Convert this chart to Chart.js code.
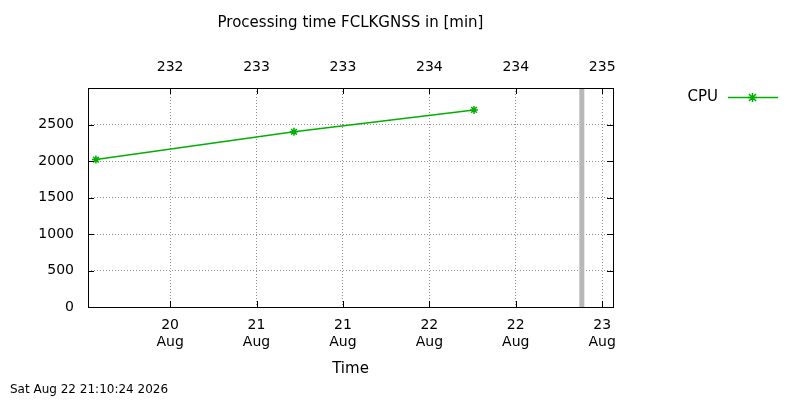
<!DOCTYPE html>
<html>
<head>
<meta charset="utf-8">
<script src="https://cdn.jsdelivr.net/npm/chart.js@4"></script>
<style>
  body { margin: 0; background: #fff; }
  #wrap { width: 800px; height: 400px; }
</style>
</head>
<body>
<div id="wrap"><canvas id="c"></canvas></div>
<script>
// hours since 20 Aug 00:00
const cpuHours = [1.7, 29.2, 54.2];
const cpuMinutes = [2020, 2400, 2700];
const nowHour = 69.17;
const tickHours = [12, 24, 36, 48, 60, 72];
const bottomLabels = [['20', 'Aug'], ['21', 'Aug'], ['21', 'Aug'], ['22', 'Aug'], ['22', 'Aug'], ['23', 'Aug']];
const topLabels = ['232', '233', '233', '234', '234', '235'];
const yTicks = [0, 500, 1000, 1500, 2000, 2500];

const font = { family: 'DejaVu Sans', size: 14 };
const gridStyle = { color: '#909090', lineWidth: 1, drawTicks: false };
const gridBorder = { display: false, dash: [1, 2] };

function fixedTicks(list) {
  return function(axis) { axis.ticks = list.map(v => ({ value: v })); };
}

const extras = {
  id: 'extras',
  afterDraw(chart) {
    const c = chart.ctx, a = chart.chartArea;
    c.save();
    c.strokeStyle = '#000';
    c.lineWidth = 1;
    c.strokeRect(a.left + 0.5, a.top + 0.5, a.right - a.left, a.bottom - a.top);
    // mirrored tick marks on every side, gnuplot style
    const y = chart.scales.y, x = chart.scales.x;
    c.beginPath();
    yTicks.forEach(v => {
      const py = Math.round(y.getPixelForValue(v)) + 0.5;
      c.moveTo(a.left, py); c.lineTo(a.left + 6, py);
      c.moveTo(a.right, py); c.lineTo(a.right - 6, py);
    });
    tickHours.forEach(v => {
      const px = Math.round(x.getPixelForValue(v)) + 0.5;
      c.moveTo(px, a.bottom); c.lineTo(px, a.bottom - 6);
      c.moveTo(px, a.top); c.lineTo(px, a.top + 6);
    });
    c.stroke();
    c.fillStyle = '#000';
    c.font = '15px "DejaVu Sans"';
    c.textAlign = 'center';
    c.textBaseline = 'middle';
    c.fillText('Processing time FCLKGNSS in [min]', (a.left + a.right) / 2, 23);
    c.fillText('Time', (a.left + a.right) / 2, 369);
    c.textAlign = 'right';
    c.fillText('CPU', 718, 97);
    c.strokeStyle = '#00b000';
    c.lineWidth = 1.5;
    c.beginPath(); c.moveTo(728, 97.5); c.lineTo(778, 97.5); c.stroke();
    c.beginPath();
    c.moveTo(749, 94); c.lineTo(756, 101); c.moveTo(756, 94); c.lineTo(749, 101);
    c.moveTo(752.5, 93); c.lineTo(752.5, 102); c.moveTo(748, 97.5); c.lineTo(757, 97.5);
    c.stroke();
    c.textAlign = 'left';
    c.font = '12px "DejaVu Sans"';
    c.fillText('Sat Aug 22 21:10:24 2026', 10, 390);
    c.restore();
  }
};

new Chart(document.getElementById('c'), {
  type: 'line',
  data: {
    datasets: [
      {
        label: 'now',
        data: [{ x: nowHour, y: 0 }, { x: nowHour, y: 3000 }],
        borderColor: '#b8b8b8',
        borderWidth: 5,
        pointRadius: 0
      },
      {
        label: 'CPU',
        data: cpuHours.map((h, i) => ({ x: h, y: cpuMinutes[i] })),
        borderColor: '#00b000',
        backgroundColor: '#00b000',
        borderWidth: 1.5,
        pointStyle: 'star',
        pointRadius: 4,
        pointBorderWidth: 1.5
      }
    ]
  },
  options: {
    responsive: true,
    maintainAspectRatio: false,
    animation: false,
    layout: { padding: { left: 10, right: 187, top: 40, bottom: 13 } },
    plugins: { legend: { display: false }, tooltip: { enabled: false } },
    scales: {
      x: {
        type: 'linear', position: 'bottom', min: 0.6, max: 73.5,
        afterBuildTicks: fixedTicks(tickHours),
        afterFit(s) { s.height = 80; },
        grid: gridStyle,
        border: gridBorder,
        ticks: {
          font: font, color: '#000', padding: 10, maxRotation: 0, autoSkip: false,
          callback: (v) => bottomLabels[tickHours.indexOf(v)]
        }
      },
      x2: {
        type: 'linear', position: 'top', min: 0.6, max: 73.5,
        afterBuildTicks: fixedTicks(tickHours),
        afterFit(s) { s.height = 48; },
        grid: { display: false },
        border: { display: false },
        ticks: {
          font: font, color: '#000', padding: 4, maxRotation: 0, autoSkip: false,
          callback: (v) => topLabels[tickHours.indexOf(v)]
        }
      },
      y: {
        min: 0, max: 3000,
        afterBuildTicks: fixedTicks(yTicks),
        afterFit(s) { s.width = 78; },
        grid: gridStyle,
        border: gridBorder,
        ticks: { font: font, color: '#000', padding: 14, callback: (v) => String(v) }
      }
    }
  },
  plugins: [extras]
});
</script>
</body>
</html>
